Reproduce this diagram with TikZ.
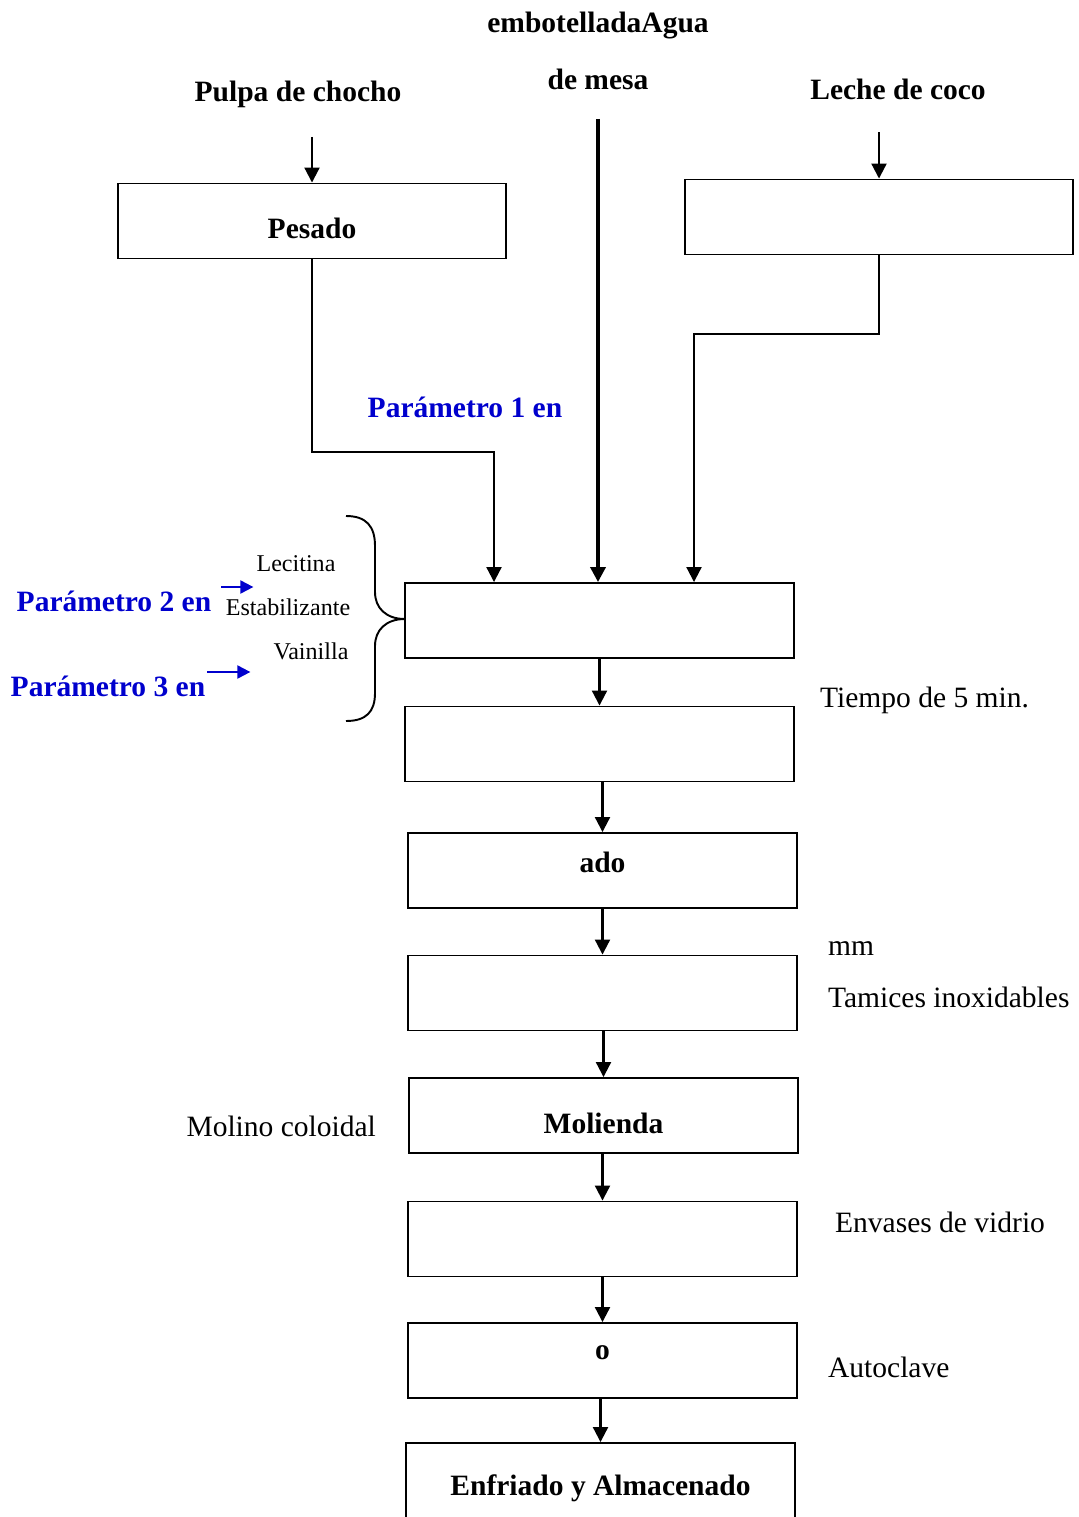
\documentclass[tikz,border=0pt]{standalone}
\usepackage{fontspec}
\setmainfont{Liberation Serif}
\usepackage{tikz}
\usetikzlibrary{arrows.meta,positioning}
\definecolor{parblue}{RGB}{0,0,205}
\newcommand\bigtxt{\fontsize{16.8}{19}\selectfont}
\newcommand\smalltxt{\fontsize{13.7}{16}\selectfont}

\tikzset{
  box/.style={draw,line width=1.1pt,minimum width=7.78cm,minimum height=1.5cm,
    inner sep=0pt,font=\bigtxt\bfseries},
  flow/.style={line width=1.2pt,-{Triangle[length=3mm,width=3mm]}},
  bigflow/.style={line width=2pt,-{Triangle[length=3mm,width=3mm]}},
  blueflow/.style={parblue,line width=1.2pt,-{Triangle[length=2.6mm,width=2.6mm]}},
  title/.style={font=\bigtxt\bfseries,inner sep=1pt},
  param/.style={font=\bigtxt\bfseries,text=parblue,inner sep=1pt},
  note/.style={font=\bigtxt,inner sep=1pt},
  additive/.style={font=\smalltxt,inner sep=1pt}
}

\begin{document}
\begin{tikzpicture}[x=0.02cm,y=-0.02cm]
  \clip (0,0) rectangle (1078,1517);
  \useasboundingbox (0,0) rectangle (1078,1517);

  % materias primas
  \node[title] (pulpa) at (298,94) {Pulpa de chocho};
  \node[title] (agua1) at (598,26) {embotelladaAgua};
  \node[title] (agua2) at (598,79) {de mesa};
  \node[title] (leche) at (898,89) {Leche de coco};

  \node[box,minimum width=7.76cm,label={[font=\bigtxt\bfseries,yshift=-0.14cm]center:Pesado}] (pesado) at (312,221) {};
  \node[box,minimum width=7.76cm] (coco) at (879,217) {};

  \draw[flow] ([yshift=-0.55cm]pulpa.south -| pesado.north) -- (pesado.north);
  \draw[flow] ([yshift=-0.62cm]leche.south -| coco.north) -- (coco.north);

  % linea de proceso
  \foreach \n/\x/\y/\d/\t in {
    1/599.5/620.5/0/{}, 2/599.5/744/0/{}, 3/602.5/870.5/0.17/ado,
    4/602.5/993/0/{}, 5/603.5/1115.5/-0.15/Molienda, 6/602.5/1239/0/{},
    7/602.5/1360.5/0.15/o, 8/600.5/1480.5/-0.16/Enfriado y Almacenado}{
    \node[box,label={[font=\bigtxt\bfseries,yshift=\d cm]center:\t}] (paso\n) at (\x,\y) {};
  }
  \foreach \a/\b in {1/2,2/3,3/4,4/5,5/6,6/7,7/8}{
    \draw[flow] (paso\b.north |- paso\a.south) -- (paso\b.north);
  }

  % entradas a la mezcla
  \coordinate (codo1) at (494,452);
  \coordinate (codo2) at (694,334);
  \draw[flow] (pesado.south) |- (codo1) -- (codo1 |- paso1.north);
  \draw[flow] (coco.south) |- (codo2) -- (codo2 |- paso1.north);
  \draw[bigflow] ([yshift=-0.55cm]agua2.south) -- (agua2.south |- paso1.north);
  \node[param] (par1) at (465,407) {Parámetro 1 en};

  % aditivos
  \coordinate (llaveA) at (346,516);
  \coordinate (llaveB) at (346,721);
  \draw[line width=1.1pt] (llaveA) .. controls (366,516) and (375,526) .. (375,546)
    -- (375,592) .. controls (375,608) and (386,619) .. (405,619)
    .. controls (386,619) and (375,630) .. (375,646)
    -- (375,693) .. controls (375,712) and (366,721) .. (llaveB);
  \node[additive] (lecitina) at (296,564) {Lecitina};
  \node[additive] (estab) at (288,607) {Estabilizante};
  \node[additive] (vainilla) at (311,651) {Vainilla};
  \node[param] (par2) at (114,601) {Parámetro 2 en};
  \node[param] (par3) at (108,686) {Parámetro 3 en};
  \draw[blueflow] ([shift={(8,-14)}]par2.east) -- ++(32,0);
  \draw[blueflow] ([shift={(0,-14)}]par3.east) -- ++(43,0);

  % notas laterales
  \node[note,anchor=west] (tiempo) at (818,700) {Tiempo de 5 min.};
  \node[note,anchor=west] (mm) at (826,949) {mm};
  \node[note,anchor=west] (tamices) at (826,997) {Tamices inoxidables};
  \node[note,anchor=east] (molino) at (378,1126) {Molino coloidal};
  \node[note,anchor=west] (envases) at (833,1222) {Envases de vidrio};
  \node[note,anchor=west] (autoclave) at (826,1367) {Autoclave};
\end{tikzpicture}
\end{document}
